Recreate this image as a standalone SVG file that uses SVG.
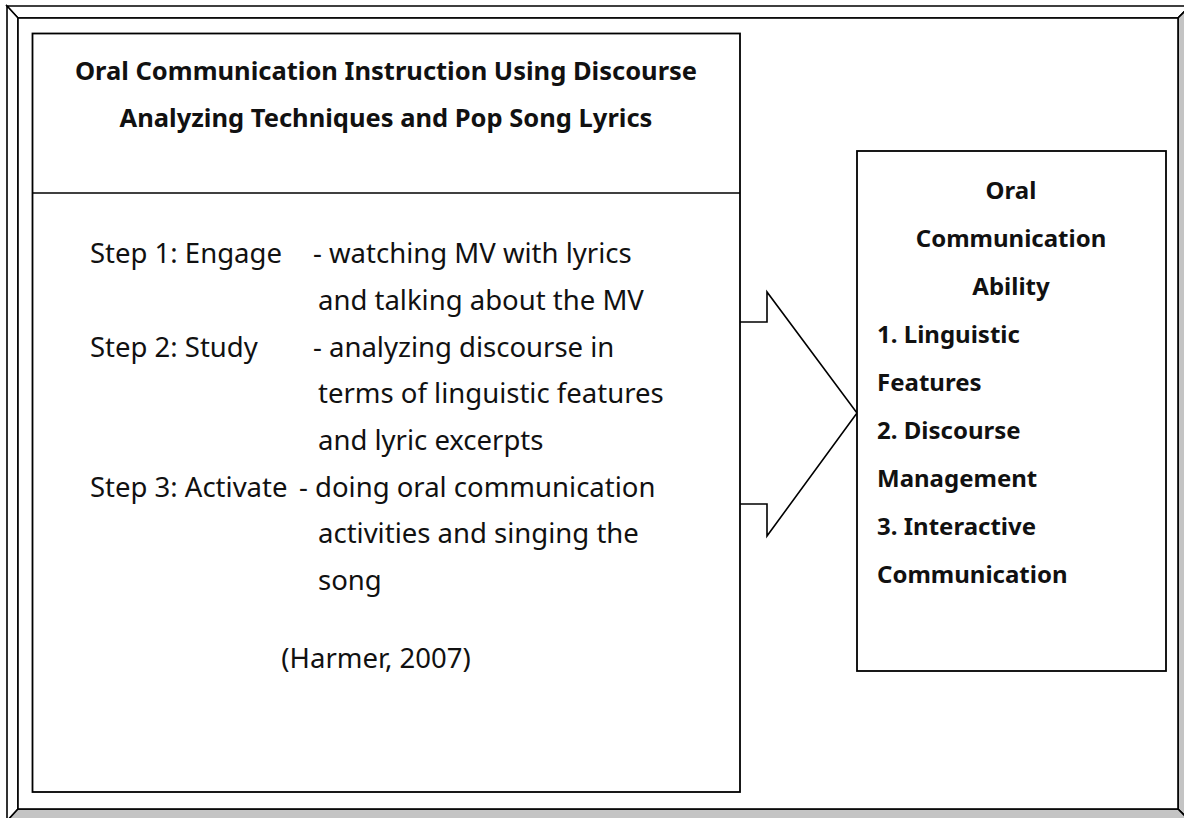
<svg xmlns="http://www.w3.org/2000/svg" width="1184" height="818" viewBox="0 0 1184 818">
  <style>
    .ln { stroke: #000; stroke-width: 1.6; stroke-linejoin: miter; }
    .box { fill: #fff; stroke: #000; stroke-width: 1.8; }
    .hd { font-family: "Noto Sans", "Open Sans", sans-serif; font-weight: bold; font-size: 24px; fill: #111; }
    .tt { font-size: 25.5px; }
    .bd { font-family: "Noto Sans", "Open Sans", sans-serif; font-size: 27.5px; fill: #111; }
    .c { text-anchor: middle; }
  </style>
  <rect width="1184" height="818" fill="#fff"/>
  <g id="frame">
    <polygon class="ln" points="7,6 1190,6 1178,18 18,18" fill="#fff"/>
    <polygon class="ln" points="7,6 18,18 18,809 7,821" fill="#fff"/>
    <polygon class="ln" points="1190,6 1178,18 1178,809 1190,821" fill="#c4c4c4"/>
    <polygon class="ln" points="7,821 18,809 1178,809 1190,821" fill="#c4c4c4"/>
    <rect x="18" y="18" width="1160" height="791" fill="#fff" class="ln"/>
  </g>
  <g id="connectors">
    <polyline class="ln" fill="#fff" points="740,322 767,322 767,292 857,413 767,536 767,504 740,504"/>
  </g>
  <g id="instruction">
    <rect class="box" x="32.5" y="33.5" width="707.5" height="758.5"/>
    <line class="ln" x1="32.5" y1="193" x2="740" y2="193"/>
    <text class="hd tt c" x="386" y="80">Oral Communication Instruction Using Discourse</text>
    <text class="hd tt c" x="386" y="127">Analyzing Techniques and Pop Song Lyrics</text>
    <text class="bd" x="90" y="263">Step 1: Engage</text>
    <text class="bd" x="313" y="263">- watching MV with lyrics</text>
    <text class="bd" x="318" y="310">and talking about the MV</text>
    <text class="bd" x="90" y="357">Step 2: Study</text>
    <text class="bd" x="313" y="357">- analyzing discourse in</text>
    <text class="bd" x="318" y="403">terms of linguistic features</text>
    <text class="bd" x="318" y="450">and lyric excerpts</text>
    <text class="bd" x="90" y="497">Step 3: Activate</text>
    <text class="bd" x="299" y="497">- doing oral communication</text>
    <text class="bd" x="318" y="543">activities and singing the</text>
    <text class="bd" x="318" y="590">song</text>
    <text class="bd c" x="376" y="668">(Harmer, 2007)</text>
  </g>
  <g id="ability">
    <rect class="box" x="857" y="151" width="309" height="520"/>
    <text class="hd c" x="1011" y="199">Oral</text>
    <text class="hd c" x="1011" y="247">Communication</text>
    <text class="hd c" x="1011" y="295">Ability</text>
    <text class="hd" x="877" y="343">1. Linguistic</text>
    <text class="hd" x="877" y="391">Features</text>
    <text class="hd" x="877" y="439">2. Discourse</text>
    <text class="hd" x="877" y="487">Management</text>
    <text class="hd" x="877" y="535">3. Interactive</text>
    <text class="hd" x="877" y="583">Communication</text>
  </g>
</svg>
